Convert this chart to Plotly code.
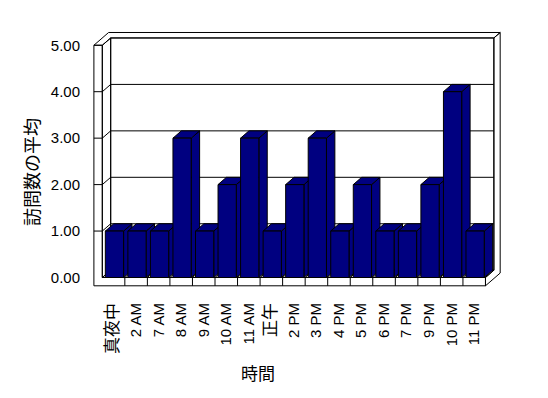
import plotly.graph_objects as go

# ---------------- data ----------------
categories = ["真夜中", "2 AM", "7 AM", "8 AM", "9 AM", "10 AM", "11 AM", "正午",
              "2 PM", "3 PM", "4 PM", "5 PM", "6 PM", "7 PM", "9 PM", "10 PM", "11 PM"]
visits_avg = [1, 1, 1, 3, 1, 2, 3, 1, 2, 3, 1, 2, 1, 1, 2, 4, 1]
y_tick_values = [0, 1, 2, 3, 4, 5]
y_tick_labels = ["0.00", "1.00", "2.00", "3.00", "4.00", "5.00"]
x_title = "時間"
y_title = "訪問数の平均"

# ---------------- style / geometry ----------------
NAVY = "#000080"
DX = 0.3727      # depth offset (category units)
DY = 0.157       # depth offset (value units)
FT = 0.179       # floor slab thickness (value units)
BT = 0.75        # back wall thickness (depth units)
VMAX = 5
BAR_HALF = 0.405
BAR_SHIFT = 0.04

n = len(categories)
L = -0.5
R = n - 0.5
Lo = L - DX      # outer face of left wall


def P(x, d, v):
    return (x + d * DX, v + d * DY)


def polys_to_xy(polys, close=True):
    xs, ys = [], []
    for pts in polys:
        seq = list(pts) + ([pts[0]] if close else [])
        xs += [p[0] for p in seq] + [None]
        ys += [p[1] for p in seq] + [None]
    return xs, ys


fig = go.Figure()


def add_faces(polys, fill, line_w=1):
    xs, ys = polys_to_xy(polys)
    fig.add_trace(go.Scatter(x=xs, y=ys, mode="lines", fill="toself",
                             fillcolor=fill, line=dict(color="black", width=line_w),
                             hoverinfo="skip", showlegend=False))


def add_lines(segs):
    xs, ys = polys_to_xy(segs, close=False)
    fig.add_trace(go.Scatter(x=xs, y=ys, mode="lines",
                             line=dict(color="black", width=1),
                             hoverinfo="skip", showlegend=False))


# walls and floor
walls = [
    [P(L, 1, 0), P(R, 1, 0), P(R, 1, VMAX), P(L, 1, VMAX)],                      # back wall
    [P(L, 0, 0), P(L, 1, 0), P(L, 1, VMAX), P(L, 0, VMAX)],                      # left inner
    [P(L, 0, 0), P(R, 0, 0), P(R, 1, 0), P(L, 1, 0)],                            # floor top
    [P(Lo, 0, VMAX), P(L, 0, VMAX), P(L, 1, VMAX), P(R, 1, VMAX),
     P(R, 1 + BT, VMAX), P(Lo, 1 + BT, VMAX)],                                   # top faces
    [P(R, 1, VMAX), P(R, 1 + BT, VMAX), P(R, 1 + BT, -FT), P(R, 0, -FT),
     P(R, 0, 0), P(R, 1, 0)],                                                    # right faces
    [P(Lo, 0, VMAX), P(L, 0, VMAX), P(L, 0, 0), P(R, 0, 0), P(R, 0, -FT),
     P(Lo, 0, -FT)],                                                             # front faces
]
add_faces(walls, "white")

segs = []
for v in y_tick_values:
    if 0 < v < VMAX:
        segs.append([P(Lo, 0, v), P(L, 0, v), P(L, 1, v), P(R, 1, v)])
for k in range(1, n):
    b = L + k
    segs.append([P(b, 0, 0), P(b, 0, -FT)])
    segs.append([P(b, 0, 0), P(b, 1, 0)])
add_lines(segs)

# bars (side, top, front)
sides, tops, fronts = [], [], []
for i, v in enumerate(visits_avg):
    xl = i + BAR_SHIFT - BAR_HALF
    xr = i + BAR_SHIFT + BAR_HALF
    sides.append([P(xr, 0, 0), P(xr, 1, 0), P(xr, 1, v), P(xr, 0, v)])
    tops.append([P(xl, 0, v), P(xr, 0, v), P(xr, 1, v), P(xl, 1, v)])
    fronts.append([P(xl, 0, 0), P(xr, 0, 0), P(xr, 0, v), P(xl, 0, v)])
add_faces(sides, NAVY)
add_faces(tops, NAVY)
add_faces(fronts, NAVY)


def tick_label(s):
    if any(ord(c) > 0x2E80 for c in s):
        return '<span style="font-size:17px">' + s + '</span>'
    return s


# plot area in pixels: x 90..510, y 25..295
PX0, PX1, PY0, PY1 = 90, 510, 25, 295
X0, CW = 113.57, 22.54
Y0, VH = 277.5, 46.45

fig.update_layout(
    width=548, height=398,
    margin=dict(l=PX0, r=548 - PX1, t=PY0, b=398 - PY1, pad=0),
    paper_bgcolor="white", plot_bgcolor="white",
    font=dict(family="Liberation Sans, Noto Sans CJK JP", size=15, color="black"),
    showlegend=False,
    xaxis=dict(range=[(PX0 - X0) / CW, (PX1 - X0) / CW], tickmode="array",
               tickvals=list(range(n)), ticktext=[tick_label(c) for c in categories],
               tickangle=-90, showgrid=False, zeroline=False, showline=False,
               ticks="outside", ticklen=1, tickcolor="rgba(0,0,0,0)", fixedrange=True),
    yaxis=dict(range=[(Y0 - PY1) / VH, (Y0 - PY0) / VH], tickmode="array",
               tickvals=y_tick_values, ticktext=y_tick_labels,
               showgrid=False, zeroline=False, showline=False,
               ticks="outside", ticklen=6, tickcolor="rgba(0,0,0,0)", fixedrange=True),
    annotations=[
        dict(text=y_title, xref="paper", yref="paper",
             x=(31 - PX0) / (PX1 - PX0), y=(PY1 - 172) / (PY1 - PY0),
             xanchor="center", yanchor="middle", textangle=-90, showarrow=False,
             font=dict(family="Noto Sans CJK JP", size=18, color="black")),
        dict(text=x_title, xref="paper", yref="paper",
             x=(258 - PX0) / (PX1 - PX0), y=(PY1 - 373) / (PY1 - PY0),
             xanchor="center", yanchor="middle", showarrow=False,
             font=dict(family="Noto Sans CJK JP", size=17, color="black")),
    ],
)

fig.write_html("out.html", config={"displayModeBar": False})
